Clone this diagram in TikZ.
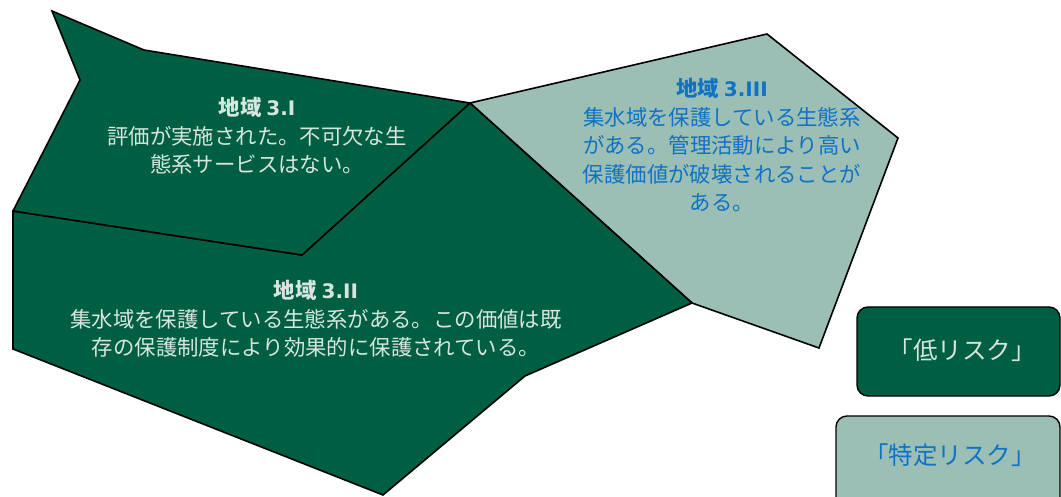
\documentclass[tikz,border=0pt]{standalone}
\usepackage{fontspec}
\setmainfont{Noto Sans CJK JP}
\newfontfamily\latinbold{DejaVu Sans}
\definecolor{darkg}{HTML}{005E42}
\definecolor{lightg}{HTML}{9BBFB4}
\definecolor{paletxt}{HTML}{D6E6DF}
\definecolor{bluetxt}{HTML}{0F72C4}
\newcommand{\regiontitle}[1]{\textbf{地域 {\latinbold\fontsize{20}{28}\selectfont #1}}}
\begin{document}
\begin{tikzpicture}[x=1pt,y=-1pt,
  region/.style={draw=black,line width=1.6pt,line join=miter},
  darkregion/.style={region,fill=darkg},
  lightregion/.style={region,fill=lightg},
  lbl/.style={align=center,font=\fontsize{21.4}{28.5}\selectfont,inner sep=0pt},
  legendtxt/.style={inner sep=0pt,font=\fontsize{24.5}{28}\selectfont},
  legendbox/.style={draw=black,line width=1.4pt,rounded corners=11pt},
]
\useasboundingbox (0,0) rectangle (1061,497);
% Region 3.III
\draw[lightregion] (470,103) -- (767,34) -- (898,138) -- (819,348) -- (692,303) -- cycle;
% Region 3.II
\draw[darkregion] (13,211) -- (302,255) -- (470,103) -- (692,303) -- (525,376) -- (383,495) -- (13,349) -- cycle;
% Region 3.I
\draw[darkregion] (52,11) -- (144,50) -- (470,103) -- (302,255) -- (13,211) -- (80,80) -- cycle;
% Labels
\node[lbl,text=paletxt] (t1) at (257,136) {\regiontitle{3.I}\\評価が実施された。不可欠な生\\態系サービスはない。};
\node[lbl,text=paletxt] (t2) at (316,319) {\regiontitle{3.II}\\集水域を保護している生態系がある。この価値は既\\存の保護制度により効果的に保護されている。};
\node[lbl,text=bluetxt] (t3) at (722,145) {\regiontitle{3.III}\\集水域を保護している生態系\\がある。管理活動により高い\\保護価値が破壊されることが\\ある。};
% Legend
\draw[legendbox,fill=darkg] (857,307) rectangle (1060,396);
\node[legendtxt,text=paletxt] (low) at (962,350) {「低リスク」};
\draw[legendbox,fill=lightg] (836,416) rectangle (1060,510);
\node[legendtxt,text=bluetxt] (spec) at (950,455) {「特定リスク」};
\end{tikzpicture}
\end{document}
